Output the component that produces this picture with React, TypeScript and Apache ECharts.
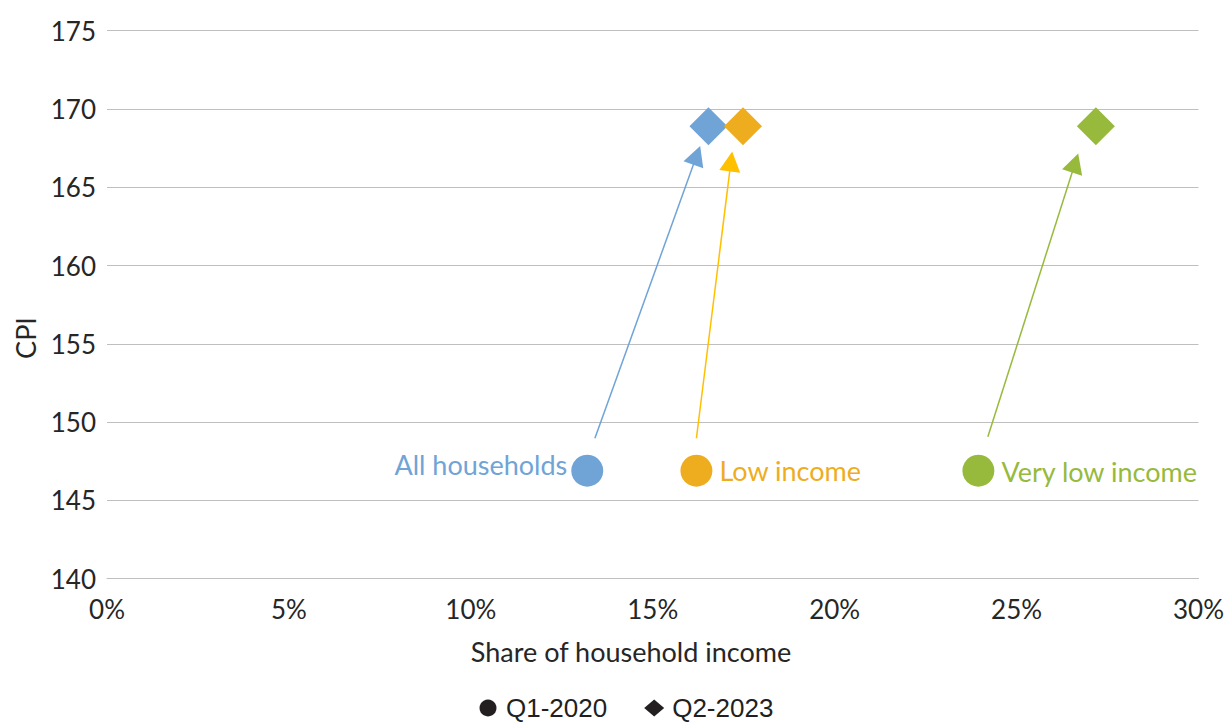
import React, { useEffect, useRef } from "react";
import * as echarts from "echarts";

const categories = ["All households", "Low income", "Very low income"];
const colors = ["#70A4D7", "#EEAD1F", "#97BA3C"];
const arrowColors = ["#70A4D7", "#FFC000", "#97BA3C"];
const q1Share = [13.2, 16.2, 23.95];
const q1Cpi = [146.9, 146.9, 146.9];
const q2Share = [16.53, 17.48, 27.18];
const q2Cpi = [168.9, 168.9, 168.9];
const arrowFromShare = [13.41, 16.2, 24.21];
const arrowFromCpi = [148.97, 148.97, 149.07];
const arrowToShare = [16.21, 17.15, 26.61];
const arrowToCpi = [167.04, 166.65, 166.55];
const labelPositions = ["left", "right", "right"];
const labelOffsetsY = [-6, 0, 1];
const legendNames = ["Q1-2020", "Q2-2023"];

const FONT = "Lato";
const LEGEND_FONT = "Liberation Sans";

export default function App() {
  const ref = useRef<HTMLDivElement>(null);
  useEffect(() => {
    const chart = echarts.init(ref.current!, undefined, { renderer: "svg" });
    chart.setOption({
      animation: false,
      backgroundColor: "#ffffff",
      textStyle: { fontFamily: FONT },
      grid: { left: 107, right: 25, top: 30.7, bottom: 143.3 },
      graphic: [
        {
          type: "text",
          x: 25,
          y: 338,
          rotation: Math.PI / 2,
          style: {
            text: "CPI",
            fontFamily: FONT,
            fontSize: 27,
            fill: "#262626",
            align: "center",
            verticalAlign: "middle",
          },
        },
        {
          type: "text",
          x: 631,
          y: 651,
          style: {
            text: "Share of household income",
            fontFamily: FONT,
            fontSize: 27,
            fill: "#262626",
            align: "center",
            verticalAlign: "middle",
          },
        },
      ],
      legend: {
        left: 474.5,
        top: 690,
        itemGap: 37,
        itemWidth: 20,
        itemHeight: 17,
        textStyle: { fontFamily: LEGEND_FONT, fontSize: 26, color: "#231F20", padding: [0, 0, 0, 3] },
        data: [
          { name: legendNames[0], icon: "circle" },
          { name: legendNames[1], icon: "diamond" },
        ],
      },
      xAxis: {
        type: "value",
        min: 0,
        max: 30,
        interval: 5,
        axisLine: { show: true, lineStyle: { color: "#BFBFBF", width: 1 } },
        axisTick: { show: false },
        splitLine: { show: false },
        axisLabel: { formatter: "{value}%", fontFamily: FONT, fontSize: 26, color: "#262626", margin: 17 },
      },
      yAxis: {
        type: "value",
        min: 140,
        max: 175,
        interval: 5,
        axisLine: { show: false },
        axisTick: { show: false },
        splitLine: { show: true, lineStyle: { color: "#BFBFBF", width: 1 } },
        axisLabel: { fontFamily: FONT, fontSize: 26, color: "#262626", margin: 11 },
      },
      series: [
        {
          name: legendNames[0],
          type: "scatter",
          symbol: "circle",
          symbolSize: 32,
          itemStyle: { color: "#231F20", opacity: 1 },
          data: categories.map((c, i) => ({
            name: c,
            value: [q1Share[i], q1Cpi[i]],
            itemStyle: { color: colors[i], opacity: 1 },
            label: {
              show: true,
              formatter: c,
              position: labelPositions[i],
              distance: i === 0 ? 4 : 7,
              offset: [0, labelOffsetsY[i]],
              color: colors[i],
              fontFamily: FONT,
              fontSize: 27,
            },
          })),
          markLine: {
            silent: true,
            symbol: ["none", "triangle"],
            symbolSize: [21, 20],
            label: { show: false },
            emphasis: { disabled: true },
            data: categories.map((c, i) => [
              {
                coord: [arrowFromShare[i], arrowFromCpi[i]],
                lineStyle: { color: arrowColors[i], width: 1.5, type: "solid", opacity: 1 },
                itemStyle: { color: arrowColors[i], opacity: 1 },
              },
              {
                coord: [arrowToShare[i], arrowToCpi[i]],
                itemStyle: { color: arrowColors[i], opacity: 1 },
              },
            ]),
          },
        },
        {
          name: legendNames[1],
          type: "scatter",
          symbol: "diamond",
          symbolSize: 38,
          itemStyle: { color: "#231F20", opacity: 1 },
          data: categories.map((c, i) => ({
            name: c,
            value: [q2Share[i], q2Cpi[i]],
            itemStyle: { color: colors[i], opacity: 1 },
          })),
        },
      ],
    });
    return () => chart.dispose();
  }, []);
  return (
    <div
      ref={ref}
      style={{ position: "fixed", left: 0, top: 0, width: 1227, height: 722 }}
    />
  );
}
